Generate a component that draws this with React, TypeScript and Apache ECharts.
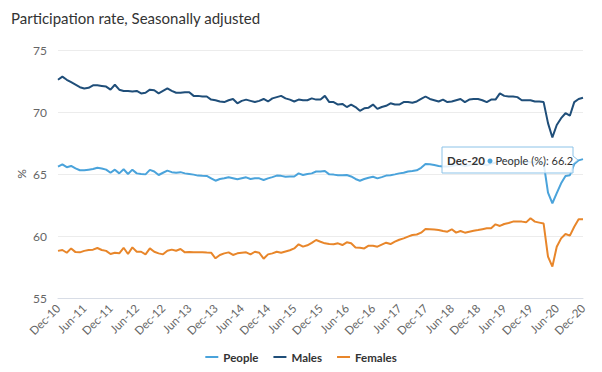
import React, { useEffect, useRef } from "react";
import * as echarts from "echarts";

const MONTHS = ["Jan", "Feb", "Mar", "Apr", "May", "Jun", "Jul", "Aug", "Sep", "Oct", "Nov", "Dec"];
const START_YEAR = 10; // Dec-10
const N_POINTS = 121;

const categories: string[] = [];
for (let i = 0; i < N_POINTS; i++) {
  const m = (11 + i) % 12;
  const y = START_YEAR + Math.floor((11 + i) / 12);
  categories.push(`${MONTHS[m]}-${String(y).padStart(2, "0")}`);
}

const peopleValues = [
  65.6, 65.78, 65.55, 65.65, 65.45, 65.3, 65.3, 65.35, 65.4, 65.5, 65.45, 65.35,
  65.1, 65.35, 65.05, 65.38, 65.0, 65.35, 65.05, 65.0, 64.97, 65.33, 65.2, 64.92,
  65.1, 65.27, 65.15, 65.1, 65.15, 65.05, 65.0, 64.95, 64.87, 64.85, 64.84, 64.65,
  64.46, 64.6, 64.65, 64.73, 64.65, 64.57, 64.65, 64.73, 64.6, 64.65, 64.65, 64.52,
  64.65, 64.75, 64.87, 64.85, 64.78, 64.8, 64.8, 65.05, 64.92, 65.0, 65.05, 65.2,
  65.2, 65.24, 64.97, 64.95, 64.9, 64.9, 64.92, 64.8, 64.6, 64.46, 64.6, 64.7,
  64.78, 64.65, 64.75, 64.87, 64.9, 64.97, 65.05, 65.1, 65.2, 65.24, 65.3, 65.5,
  65.8, 65.78, 65.72, 65.65, 65.6, 65.6, 65.65, 65.7, 65.75, 65.65, 65.7, 65.8,
  65.85, 65.8, 65.7, 65.85, 65.9, 66.15, 66.05, 66.0, 66.05, 66.05, 65.95, 65.95,
  65.95, 65.95, 65.95, 65.9, 63.5, 62.64, 63.45, 64.25, 64.84, 64.9, 65.8, 66.1,
  66.2,
];

const malesValues = [
  72.6, 72.85, 72.6, 72.4, 72.2, 72.0, 71.9, 71.95, 72.15, 72.15, 72.1, 72.05,
  71.8, 72.2, 71.8, 71.7, 71.7, 71.65, 71.7, 71.5, 71.55, 71.8, 71.75, 71.5,
  71.7, 71.9, 71.7, 71.55, 71.55, 71.6, 71.6, 71.3, 71.3, 71.25, 71.25, 71.0,
  70.95, 70.85, 70.8, 70.95, 71.05, 70.7, 70.9, 71.0, 70.9, 70.8, 70.9, 71.05,
  70.85, 71.1, 71.2, 71.3, 71.1, 71.0, 70.85, 71.0, 70.95, 70.95, 71.1, 71.0,
  71.0, 71.3, 70.8, 70.8, 70.6, 70.65, 70.4, 70.6, 70.4, 70.1, 70.3, 70.35,
  70.6, 70.25, 70.4, 70.5, 70.7, 70.6, 70.6, 70.8, 70.8, 70.75, 70.85, 71.05,
  71.25, 71.05, 70.95, 70.85, 71.0, 70.8, 70.85, 70.95, 71.05, 70.8, 71.0, 71.05,
  71.05, 70.95, 70.8, 71.0, 71.0, 71.5, 71.3, 71.25, 71.25, 71.2, 70.95, 70.95,
  70.95, 70.85, 70.85, 70.8, 69.1, 67.95, 68.95, 69.5, 69.9, 69.7, 70.8, 71.05,
  71.15,
];

const femalesValues = [
  58.8, 58.87, 58.65, 59.0, 58.7, 58.68, 58.8, 58.87, 58.9, 59.03, 58.87, 58.8,
  58.55, 58.65, 58.6, 59.05, 58.55, 59.08, 58.73, 58.73, 58.52, 59.0, 58.73, 58.6,
  58.52, 58.81, 58.9, 58.81, 58.95, 58.68, 58.7, 58.68, 58.68, 58.68, 58.66, 58.65,
  58.2, 58.47, 58.6, 58.68, 58.47, 58.6, 58.65, 58.68, 58.52, 58.73, 58.65, 58.17,
  58.52, 58.6, 58.73, 58.65, 58.75, 58.85, 59.0, 59.33, 59.14, 59.25, 59.45, 59.68,
  59.54, 59.41, 59.35, 59.33, 59.41, 59.27, 59.49, 59.41, 59.08, 59.05, 59.0, 59.22,
  59.22, 59.14, 59.3, 59.46, 59.35, 59.54, 59.7, 59.81, 59.95, 60.08, 60.12, 60.27,
  60.56, 60.54, 60.52, 60.48, 60.4, 60.35, 60.54, 60.27, 60.4, 60.27, 60.35, 60.43,
  60.48, 60.55, 60.62, 60.62, 60.94, 60.81, 60.97, 61.05, 61.16, 61.16, 61.16, 61.1,
  61.43, 61.16, 61.08, 61.0, 58.33, 57.53, 59.14, 59.81, 60.16, 60.03, 60.75, 61.35,
  61.35,
];

const yTicks = { min: 55, max: 75, interval: 5 };

const COLORS = { people: "#4AA3DB", males: "#1F4E79", females: "#E8862A" };
const FONT = "Lato, 'Open Sans', sans-serif";

export default function App() {
  const ref = useRef<HTMLDivElement>(null);

  useEffect(() => {
    document.body.style.margin = "0";
    if (!ref.current) return;
    const chart = echarts.init(ref.current, undefined, { renderer: "svg" });

    const lastIdx = peopleValues.length - 1;
    const tipLabel = categories[lastIdx];
    const tipValue = peopleValues[lastIdx].toFixed(1);

    const tipX = 442;
    const tipY = 147;
    const tipW = 131;
    const tipH = 26;

    chart.setOption({
      animation: false,
      textStyle: { fontFamily: FONT },
      title: {
        text: "Participation rate, Seasonally adjusted",
        left: 6,
        top: 5,
        textStyle: { fontSize: 15, fontWeight: "normal", color: "#333", fontFamily: FONT },
      },
      legend: {
        bottom: 4,
        left: "center",
        icon: "rect",
        itemWidth: 13,
        itemHeight: 2,
        itemGap: 15,
        textStyle: { fontSize: 11.5, fontWeight: "bold", color: "#333", fontFamily: FONT },
        data: ["People", "Males", "Females"],
      },
      grid: { left: 58, right: 19, top: 50, bottom: 74, containLabel: false },
      xAxis: {
        type: "category",
        data: categories,
        boundaryGap: false,
        axisLine: { show: true, lineStyle: { color: "#d8dde6", width: 1 } },
        axisTick: { show: false },
        axisLabel: {
          interval: 5,
          rotate: 45,
          fontSize: 11.5,
          color: "#666",
          margin: 8,
          fontFamily: FONT,
        },
        splitLine: { show: false },
      },
      yAxis: {
        type: "value",
        min: yTicks.min,
        max: yTicks.max,
        interval: yTicks.interval,
        name: "%",
        nameLocation: "middle",
        nameRotate: 90,
        nameGap: 31,
        nameMoveOverlap: false,
        nameTextStyle: { fontSize: 12, color: "#555", fontFamily: FONT },
        axisLine: { show: false },
        axisTick: { show: false },
        axisLabel: { fontSize: 12, color: "#666", margin: 11, fontFamily: FONT },
        splitLine: { lineStyle: { color: "#ececec", width: 1 } },
      },
      series: [
        {
          name: "People",
          type: "line",
          data: peopleValues,
          symbol: "none",
          lineStyle: { width: 2, color: COLORS.people },
          itemStyle: { color: COLORS.people },
          z: 3,
        },
        {
          name: "Males",
          type: "line",
          data: malesValues,
          symbol: "none",
          lineStyle: { width: 2, color: COLORS.males },
          itemStyle: { color: COLORS.males },
          z: 2,
        },
        {
          name: "Females",
          type: "line",
          data: femalesValues,
          symbol: "none",
          lineStyle: { width: 2, color: COLORS.females },
          itemStyle: { color: COLORS.females },
          z: 2,
        },
      ],
      graphic: {
        elements: [
          {
            type: "polygon",
            x: tipX,
            y: tipY,
            z: 100,
            shape: {
              points: [
                [0, 0],
                [tipW, 0],
                [tipW, tipH / 2 - 4],
                [tipW + 5, tipH / 2],
                [tipW, tipH / 2 + 4],
                [tipW, tipH],
                [0, tipH],
              ],
            },
            style: { fill: "rgba(255,255,255,0.85)", stroke: "#8cc3e8", lineWidth: 1 },
          },
          {
            type: "text",
            x: tipX + 5,
            y: tipY + tipH / 2,
            z: 101,
            style: {
              text: tipLabel,
              fontSize: 11.5,
              fontWeight: "bold",
              fill: "#333",
              fontFamily: FONT,
              verticalAlign: "middle",
            },
          },
          {
            type: "circle",
            z: 101,
            shape: { cx: tipX + 48, cy: tipY + tipH / 2 + 1, r: 2.5 },
            style: { fill: COLORS.people },
          },
          {
            type: "text",
            x: tipX + 53.5,
            y: tipY + tipH / 2,
            z: 101,
            style: {
              text: `People (%): ${tipValue}`,
              fontSize: 11,
              fill: "#333",
              fontFamily: FONT,
              verticalAlign: "middle",
            },
          },
        ],
      },
    });

    return () => {
      chart.dispose();
    };
  }, []);

  return <div ref={ref} style={{ width: 602, height: 372 }} />;
}
